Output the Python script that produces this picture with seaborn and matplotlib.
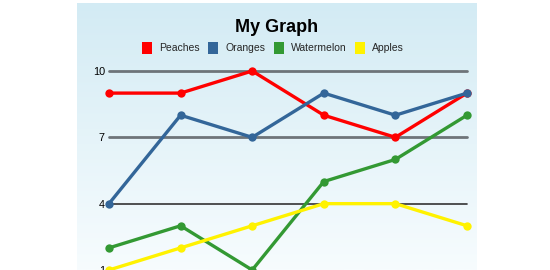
import numpy as np
import pandas as pd
import matplotlib
matplotlib.use("Agg")
import matplotlib.pyplot as plt
import seaborn as sns
from matplotlib.patches import Patch

# Data
categories = [1, 2, 3, 4, 5, 6]
peaches = [9, 9, 10, 8, 7, 9]
oranges = [4, 8, 7, 9, 8, 9]
watermelon = [2, 3, 1, 5, 6, 8]
apples = [1, 2, 3, 4, 4, 3]
series_names = ["Peaches", "Oranges", "Watermelon", "Apples"]
colors = ["#FF0000", "#336699", "#339933", "#FFF200"]
yticks = [1, 4, 7, 10]

df = pd.DataFrame({"x": categories * 4,
                   "value": peaches + oranges + watermelon + apples,
                   "series": sum([[n] * len(categories) for n in series_names], [])})

sns.set_theme(style="white")
plt.rcParams['font.family'] = ['Liberation Sans', 'DejaVu Sans']

W, H = 550, 270
fig = plt.figure(figsize=(W / 100, H / 100), dpi=100)

# gradient background box
bg = fig.add_axes([77 / W, 0, (477 - 77) / W, (270 - 3) / H])
grad = np.linspace(0, 1, 256).reshape(-1, 1)
top = np.array([0xD3, 0xEB, 0xF4]) / 255
bot = np.array([0xF7, 0xFC, 0xFE]) / 255
img = top * (1 - grad[..., None]) + bot * grad[..., None]
bg.imshow(img, aspect="auto", extent=[0, 1, 0, 1])
bg.set_axis_off()

# main axes
ax = fig.add_axes([109 / W, 0, (467 - 109) / W, 1])
ax.patch.set_alpha(0)
y10, y4 = 71.7, 205.7
ppu = (y4 - y10) / 6.0
ax.set_xlim(1, 6)
ax.set_ylim(4 - (H - y4) / ppu, 10 + y10 / ppu)

for v, lw, c in [(10, 2.0, "#6E7479"), (7, 2.0, "#6E7479"), (4, 1.2, "#333333")]:
    ax.axhline(v, color=c, lw=lw, zorder=1)

sns.lineplot(data=df, x="x", y="value", hue="series", palette=colors,
             hue_order=series_names, marker="o", markersize=6, markeredgewidth=0,
             linewidth=2.4, ax=ax, legend=False, zorder=3)
for line in ax.lines:
    line.set_clip_on(False)

ax.set_yticks(yticks)
ax.set_yticklabels([str(t) for t in yticks], fontsize=7.8, color="#000000")
ax.tick_params(axis="y", length=0, pad=3)
ax.set_xticks([])
ax.set_xlabel("")
ax.set_ylabel("")
for s in ax.spines.values():
    s.set_visible(False)

fig.text(277 / W, 1 - 27 / H, "My Graph", ha="center", va="center",
         fontsize=13, fontweight="bold", color="#000000")

handles = [Patch(facecolor=c, edgecolor="none", label=n) for n, c in zip(series_names, colors)]
fig.legend(handles=handles, loc="center", bbox_to_anchor=(273 / W, 1 - 48 / H), ncol=4,
           frameon=False, fontsize=7.5, handlelength=0.95, handleheight=1.3,
           handletextpad=0.65, columnspacing=0.85, borderpad=0)

fig.savefig("out.png", dpi=100, facecolor="white")
